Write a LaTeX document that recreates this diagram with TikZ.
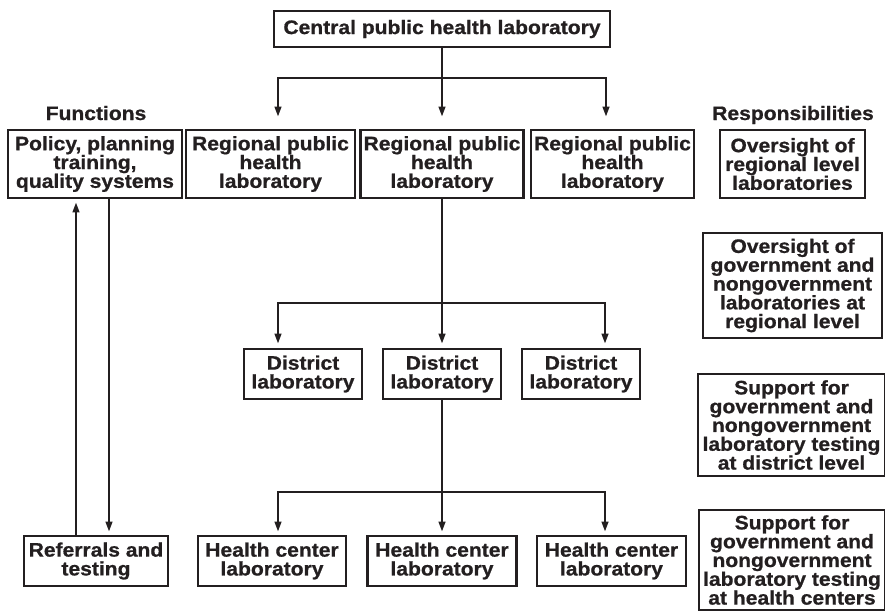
\documentclass[tikz,border=0pt]{standalone}
\usepackage{fontspec}
\setmainfont{Liberation Sans}
\newfontfamily\labfont{Liberation Sans}[FakeStretch=1.08, BoldFeatures={FakeBold=0.8}]
\usetikzlibrary{arrows.meta}
\definecolor{ink}{HTML}{231F20}

\begin{document}
\begin{tikzpicture}[
  x=1pt, y=-1pt,
  box/.style={draw=ink, line width=2.6pt, inner sep=0pt, align=center,
              text=ink, font=\labfont\fontsize{19.5}{18.8}\selectfont\bfseries},
  head/.style={text=ink, inner sep=0pt, anchor=base,
               font=\labfont\fontsize{19.5}{18.8}\selectfont\bfseries},
  arr/.style={-{Triangle[length=10pt,width=6.5pt]}, draw=ink, line width=2.3pt}
]
\useasboundingbox (0,0) rectangle (885,611);
% top level
\node[box, minimum width=336pt, minimum height=36pt] (cpl) at (442,29) {Central public health laboratory};
\node[head] (fun) at (96,120) {Functions};
\node[head] (resp) at (793,120) {Responsibilities};
\node[box, minimum width=174pt, minimum height=68pt] (pol) at (95,164) {Policy, planning\\training,\\quality systems};
\node[box, minimum width=169pt, minimum height=68pt] (rpl1) at (270.5,164) {Regional public\\health\\laboratory};
\node[box, minimum width=163pt, minimum height=68pt] (rpl2) at (442,164) {Regional public\\health\\laboratory};
\node[box, minimum width=163pt, minimum height=68pt] (rpl3) at (612.5,164) {Regional public\\health\\laboratory};
\node[box, minimum width=145pt, minimum height=68pt] (ovr) at (792.5,164) {Oversight of\\regional level\\laboratories};
% district level
\node[box, minimum width=179pt, minimum height=105pt] (ovg) at (792.5,285.5) {Oversight of\\government and\\nongovernment\\laboratories at\\regional level};
\node[box, minimum width=118pt, minimum height=50pt] (dl1) at (303,374) {District\\laboratory};
\node[box, minimum width=118pt, minimum height=50pt] (dl2) at (442,374) {District\\laboratory};
\node[box, minimum width=118pt, minimum height=50pt] (dl3) at (581,374) {District\\laboratory};
\node[box, minimum width=187pt, minimum height=102pt] (sud) at (791.5,425) {Support for\\government and\\nongovernment\\laboratory testing\\at district level};
% health center level
\node[box, minimum width=144pt, minimum height=50pt] (ref) at (96,561) {Referrals and\\testing};
\node[box, minimum width=148pt, minimum height=50pt] (hc1) at (272,561) {Health center\\laboratory};
\node[box, minimum width=149pt, minimum height=50pt] (hc2) at (442,561) {Health center\\laboratory};
\node[box, minimum width=149pt, minimum height=50pt] (hc3) at (611.5,561) {Health center\\laboratory};
\node[box, minimum width=186pt, minimum height=100pt] (suh) at (792,560) {Support for\\government and\\nongovernment\\laboratory testing\\at health centers};

\coordinate (tl) at (278,78); \coordinate (tr) at (606,78);
\coordinate (ml) at (278,303); \coordinate (mr) at (605,303);
\coordinate (bl) at (278,492); \coordinate (br) at (605,492);
\coordinate (upx) at (76,0); \coordinate (dnx) at (109,0);

\draw[arr, shorten >=12pt] (cpl) -- (rpl2);
\draw[arr, shorten >=12pt] (tr) -- (tl) -- (tl |- rpl1.north);
\draw[arr, shorten >=12pt] (tl) -- (tr) -- (tr |- rpl3.north);
\draw[arr, shorten >=4pt] (rpl2) -- (dl2);
\draw[arr, shorten >=4pt] (mr) -- (ml) -- (ml |- dl1.north);
\draw[arr, shorten >=4pt] (ml) -- (mr) -- (mr |- dl3.north);
\draw[arr, shorten >=3pt] (dl2) -- (hc2);
\draw[arr, shorten >=3pt] (br) -- (bl) -- (bl |- hc1.north);
\draw[arr, shorten >=3pt] (bl) -- (br) -- (br |- hc3.north);
\draw[arr, shorten >=3pt] (ref.north -| upx) -- (pol.south -| upx);
\draw[arr, shorten >=3pt] (pol.south -| dnx) -- (ref.north -| dnx);
\end{tikzpicture}
\end{document}
